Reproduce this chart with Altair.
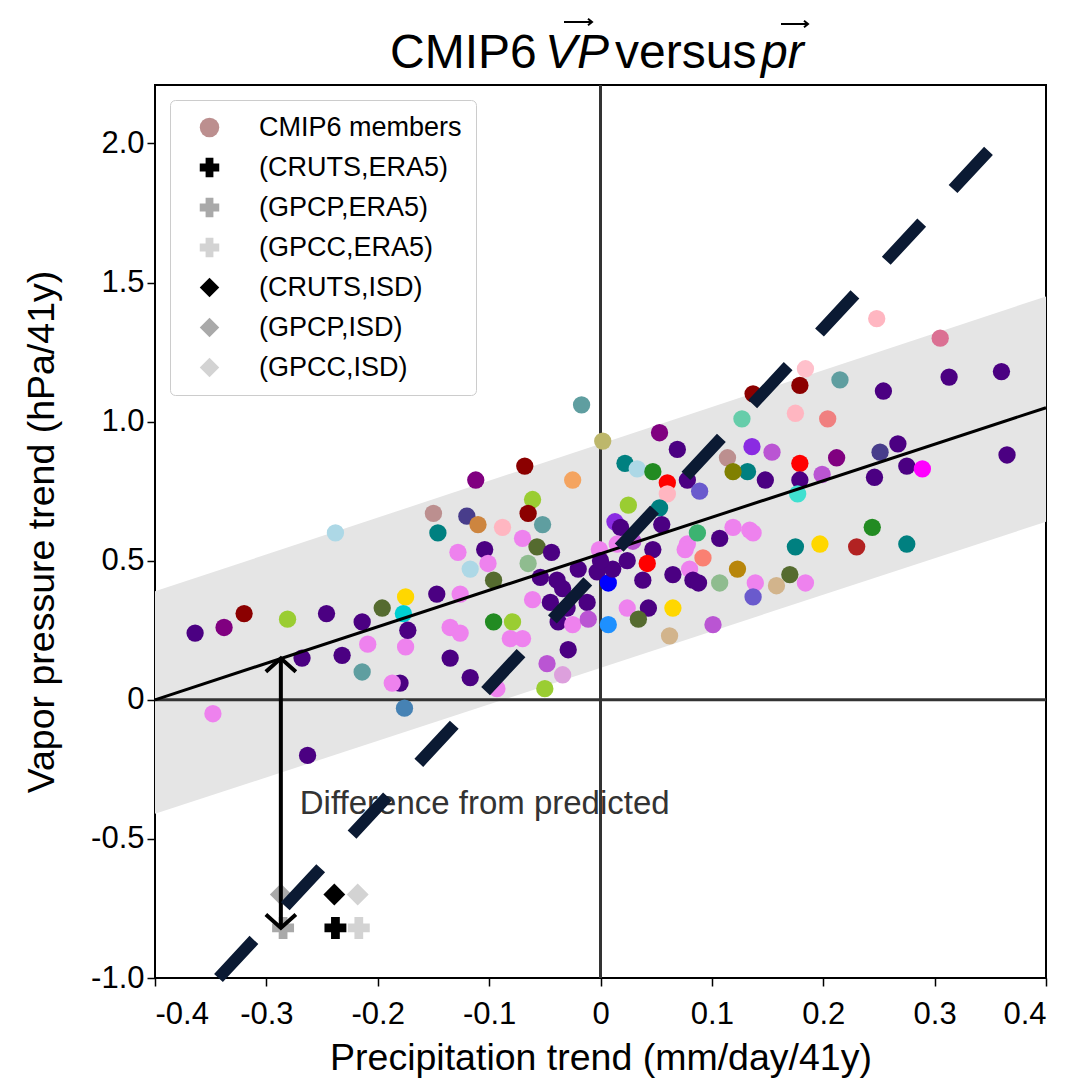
import altair as alt
import pandas as pd

# ---------------- data ----------------
cm_x = [-0.364, -0.338, -0.320, -0.281, -0.246, -0.214, -0.196, -0.175, -0.177, -0.268,
        -0.232, -0.209, -0.175, -0.173, -0.214, -0.180, -0.187, -0.348, -0.176, -0.263,
        -0.238, -0.017, 0.002, -0.068, -0.112, -0.025, -0.061, -0.065, -0.052, -0.150,
        -0.120, -0.110, -0.146, -0.088, -0.070, -0.057, -0.044, -0.104, -0.128, -0.101,
        -0.117, -0.065, -0.096, -0.054, -0.147, -0.126, -0.135, -0.126, -0.135, -0.117,
        -0.096, -0.079, -0.081, -0.070, -0.061, -0.039, -0.034, -0.030, -0.012, -0.038,
        -0.025, -0.011, -0.029, -0.048, -0.034, -0.050, -0.093, 0.007, -0.003, 0.007,
        0.013, 0.018, 0.025, 0.022, 0.033, 0.047, 0.053, 0.069, 0.060, 0.060,
        0.078, 0.089, 0.053, 0.029, 0.047, 0.042, 0.038, 0.024, 0.011, 0.065,
        0.080, 0.083, 0.024, 0.043, 0.065, 0.062, 0.034, 0.078, -0.001, 0.055,
        0.248, 0.305, 0.313, 0.360, 0.254, 0.215, 0.184, 0.179, 0.137, 0.175,
        0.204, 0.127, 0.136, 0.154, 0.179, 0.212, 0.267, 0.251, 0.246, 0.275,
        0.289, 0.365, 0.132, 0.148, 0.179, 0.199, 0.177, 0.244, 0.175, 0.197,
        0.230, 0.275, 0.114, 0.119, 0.092, 0.087, 0.107, 0.119, 0.134, 0.137,
        0.076, 0.123, 0.107, 0.088, 0.170, 0.184, 0.158, 0.139, 0.137, 0.101,
        -0.020, 0.000, -0.045, 0.015]
cm_y = [0.24, 0.26, 0.31, 0.29, 0.31, 0.28, 0.33, 0.37, 0.31, 0.15,
        0.16, 0.20, 0.19, 0.25, 0.10, 0.06, 0.06, -0.05, -0.03, -0.20,
        0.60, 1.06, 0.93, 0.84, 0.79, 0.79, 0.72, 0.67, 0.63, 0.67,
        0.66, 0.63, 0.60, 0.62, 0.58, 0.55, 0.53, 0.54, 0.53, 0.49,
        0.47, 0.49, 0.43, 0.44, 0.38, 0.38, 0.26, 0.24, 0.15, 0.08,
        0.28, 0.28, 0.22, 0.22, 0.36, 0.43, 0.40, 0.33, 0.35, 0.28,
        0.27, 0.29, 0.18, 0.13, 0.09, 0.04, 0.04, 0.27, 0.46, 0.42,
        0.64, 0.62, 0.70, 0.85, 0.83, 0.82, 0.96, 0.90, 0.78, 0.74,
        0.79, 0.75, 0.69, 0.57, 0.54, 0.49, 0.43, 0.50, 0.47, 0.45,
        0.47, 0.43, 0.33, 0.33, 0.33, 0.23, 0.29, 0.56, 0.54, 0.63,
        1.37, 1.30, 1.16, 1.18, 1.11, 1.15, 1.19, 1.13, 1.10, 1.03,
        1.01, 1.01, 0.91, 0.89, 0.85, 0.87, 0.92, 0.89, 0.80, 0.84,
        0.83, 0.88, 0.82, 0.79, 0.79, 0.81, 0.74, 0.62, 0.55, 0.56,
        0.55, 0.56, 0.87, 0.82, 0.51, 0.60, 0.58, 0.62, 0.61, 0.60,
        0.54, 0.47, 0.42, 0.42, 0.45, 0.42, 0.41, 0.42, 0.37, 0.27,
        0.47, 0.50, 0.35, 0.56]
cm_color = ["indigo", "purple", "darkred", "yellowgreen", "indigo", "indigo", "darkolivegreen", "gold", "darkturquoise", "indigo",
            "indigo", "violet", "violet", "indigo", "cadetblue", "indigo", "violet", "violet", "steelblue", "indigo",
            "lightblue", "cadetblue", "darkkhaki", "darkred", "purple", "sandybrown", "yellowgreen", "darkred", "cadetblue", "rosybrown",
            "darkslateblue", "peru", "teal", "lightpink", "violet", "darkolivegreen", "indigo", "indigo", "violet", "violet",
            "lightblue", "darkseagreen", "darkolivegreen", "indigo", "indigo", "violet", "violet", "violet", "indigo", "indigo",
            "forestgreen", "yellowgreen", "violet", "violet", "violet", "indigo", "indigo", "indigo", "indigo", "indigo",
            "violet", "mediumorchid", "indigo", "mediumorchid", "plum", "yellowgreen", "violet", "dodgerblue", "indigo", "blue",
            "blueviolet", "indigo", "yellowgreen", "teal", "lightblue", "forestgreen", "purple", "indigo", "red", "lightpink",
            "indigo", "slateblue", "teal", "mediumorchid", "indigo", "red", "indigo", "indigo", "indigo", "indigo",
            "violet", "indigo", "violet", "indigo", "gold", "tan", "darkolivegreen", "violet", "violet", "indigo",
            "lightpink", "palevioletred", "indigo", "indigo", "indigo", "cadetblue", "pink", "darkred", "darkred", "lightpink",
            "lightcoral", "mediumaquamarine", "blueviolet", "mediumorchid", "red", "purple", "indigo", "darkslateblue", "indigo", "indigo",
            "magenta", "indigo", "teal", "indigo", "indigo", "mediumorchid", "turquoise", "forestgreen", "teal", "gold",
            "firebrick", "teal", "rosybrown", "olive", "salmon", "mediumseagreen", "indigo", "violet", "violet", "violet",
            "violet", "darkgoldenrod", "darkseagreen", "indigo", "darkolivegreen", "violet", "tan", "violet", "slateblue", "mediumorchid",
            "indigo", "indigo", "indigo", "violet"]

obs_labels = ["(CRUTS,ERA5)", "(GPCP,ERA5)", "(GPCC,ERA5)", "(CRUTS,ISD)", "(GPCP,ISD)", "(GPCC,ISD)"]
obs_x = [-0.238, -0.285, -0.217, -0.239, -0.287, -0.218]
obs_y = [-0.82, -0.82, -0.82, -0.70, -0.70, -0.70]

legend_labels = ["CMIP6 members"] + obs_labels
legend_colors = ["rosybrown", "black", "darkgray", "lightgray", "black", "darkgray", "lightgray"]
legend_shapes = ["circle", "cross", "cross", "cross", "diamond", "diamond", "diamond"]

fit_x = [-0.4, 0.4]
fit_y = [0.0, 1.05]
band_lo = [-0.41, 0.64]
band_hi = [0.39, 1.45]

one2one_x = [-0.343, 0.350]
one2one_y = [-1.0, 1.98]

arrow_x = [-0.287]
arrow_top = [0.149]
arrow_bottom = [-0.82]

annot_text = ["Difference from predicted"]
annot_x = [-0.270]
annot_y = [-0.375]

x_ticks = [-0.4, -0.3, -0.2, -0.1, 0.0, 0.1, 0.2, 0.3, 0.4]
y_ticks = [-1.0, -0.5, 0.0, 0.5, 1.0, 1.5, 2.0]

title_parts = ["CMIP6", "VP", "versus", "pr"]

# ---------------- chart ----------------
FONT = "Liberation Sans"
W, H = 891, 893

lbl = "datum.value == 0 ? '0' : (datum.value < 0 ? '-' : '') + format(abs(datum.value), '.1f')"
xs = alt.Scale(domain=[-0.4, 0.4], nice=False, zero=False)
ys = alt.Scale(domain=[-1.0, 2.21], nice=False, zero=False)
xax = alt.Axis(values=x_ticks, labelExpr=lbl, title="Precipitation trend (mm/day/41y)", labelPadding=13,
               titleX=W / 2, titleY=80, titleAlign="center", titleBaseline="middle")
yax = alt.Axis(values=y_ticks, labelExpr=lbl, title="Vapor pressure trend (hPa/41y)", labelPadding=3,
               titleX=-113, titleY=H / 2, titleAlign="center", titleBaseline="middle", titleAngle=270)

fit_df = pd.DataFrame({"x": fit_x, "y": fit_y, "lo": band_lo, "hi": band_hi})
band = alt.Chart(fit_df).mark_area(color="#e5e5e5", opacity=1).encode(
    x=alt.X("x:Q", scale=xs, axis=xax), y=alt.Y("lo:Q", scale=ys, axis=yax), y2="hi:Q")

zero_df = pd.DataFrame({"v": [0.0]})
zero_h = alt.Chart(zero_df).mark_rule(color="#333333", strokeWidth=3).encode(y=alt.Y("v:Q", scale=ys))
zero_v = alt.Chart(zero_df).mark_rule(color="#333333", strokeWidth=3).encode(x=alt.X("v:Q", scale=xs))

cm_df = pd.DataFrame({"x": cm_x, "y": cm_y, "c": cm_color})
cm = alt.Chart(cm_df).mark_circle(size=300, opacity=1, strokeWidth=0).encode(
    x=alt.X("x:Q", scale=xs), y=alt.Y("y:Q", scale=ys), fill=alt.Fill("c:N", scale=None))

fit = alt.Chart(fit_df).mark_line(color="black", strokeWidth=3).encode(
    x=alt.X("x:Q", scale=xs), y=alt.Y("y:Q", scale=ys))

obs_df = pd.DataFrame({"x": obs_x, "y": obs_y, "label": obs_labels})
obs = alt.Chart(obs_df).mark_point(filled=True, opacity=1, size=480, strokeWidth=0).encode(
    x=alt.X("x:Q", scale=xs), y=alt.Y("y:Q", scale=ys),
    color=alt.Color("label:N", scale=alt.Scale(domain=legend_labels, range=legend_colors), title=None),
    shape=alt.Shape("label:N", scale=alt.Scale(domain=legend_labels, range=legend_shapes), title=None))

annot_df = pd.DataFrame({"x": annot_x, "y": annot_y, "t": annot_text})
annot = alt.Chart(annot_df).mark_text(align="left", baseline="middle", font=FONT, fontSize=33,
                                      color="#333333").encode(
    x=alt.X("x:Q", scale=xs), y=alt.Y("y:Q", scale=ys), text="t:N")

arr_df = pd.DataFrame({"x": arrow_x, "top": arrow_top, "bot": arrow_bottom})
shaft = alt.Chart(arr_df).mark_rule(color="black", strokeWidth=4).encode(
    x=alt.X("x:Q", scale=xs), y=alt.Y("top:Q", scale=ys), y2="bot:Q")
head_top = alt.Chart(arr_df).mark_point(shape="M-1,0.9L0,0L1,0.9", filled=False, color="black",
                                        strokeWidth=4, size=900, opacity=1).encode(
    x=alt.X("x:Q", scale=xs), y=alt.Y("top:Q", scale=ys))
head_bot = alt.Chart(arr_df).mark_point(shape="M-1,-0.9L0,0L1,-0.9", filled=False, color="black",
                                        strokeWidth=4, size=900, opacity=1).encode(
    x=alt.X("x:Q", scale=xs), y=alt.Y("bot:Q", scale=ys))

one_df = pd.DataFrame({"x": one2one_x, "y": one2one_y, "o": [0, 1]})
one2one = alt.Chart(one_df).mark_line(color="#0b1a33", strokeWidth=12, strokeDash=[52, 46],
                                      strokeCap="butt").encode(
    x=alt.X("x:Q", scale=xs), y=alt.Y("y:Q", scale=ys), order="o:Q")

# ---- title built from pieces (italic vector symbols with arrows) ----
one_row = pd.DataFrame({"k": [0]})

def ttext(s, x, y, size, italic=False):
    return alt.Chart(pd.DataFrame({"t": [s]})).mark_text(
        align="left", baseline="alphabetic", font=FONT, fontSize=size,
        fontStyle="italic" if italic else "normal", color="black").encode(
        text="t:N", x=alt.value(x), y=alt.value(y))

def vec_arrow(x0, x1, y):
    shaft_ = alt.Chart(one_row).mark_rule(color="black", strokeWidth=2).encode(
        x=alt.value(x0), x2=alt.value(x1), y=alt.value(y))
    head_ = alt.Chart(one_row).mark_point(shape="M-1,-0.8L0,0L-1,0.8", filled=False, color="black",
                                          strokeWidth=2, size=64, opacity=1).encode(
        x=alt.value(x1), y=alt.value(y))
    return [shaft_, head_]

t1 = ttext(title_parts[0], 235, -17, 48)
t2 = ttext(title_parts[1], 390, -17, 48, True)
t3 = ttext(title_parts[2], 460, -17, 48)
t4 = ttext(title_parts[3], 606, -17, 48, True)
arrows = vec_arrow(409, 437, -63) + vec_arrow(626, 653, -61)

chart = alt.layer(band, zero_h, zero_v, cm, fit, obs, annot, shaft, head_top, head_bot, one2one,
                  t1, t2, t3, t4, *arrows).properties(
    width=W, height=H,
    autosize=alt.AutoSizeParams(type="none"),
    padding={"left": 155, "top": 85, "right": 28, "bottom": 102},
).configure_view(stroke="black", strokeWidth=2).configure_axis(
    domain=False, grid=False, tickColor="black", tickSize=8, tickWidth=1.5,
    labelFont=FONT, labelFontSize=31, labelColor="black",
    titleFont=FONT, titleFontSize=37.5, titleFontWeight="normal", titleColor="black",
).configure_legend(
    orient="top-left", offset=15, padding=14, fillColor="white", strokeColor="#cccccc",
    cornerRadius=5, labelFont=FONT, labelFontSize=27, labelLimit=400, labelColor="black",
    symbolSize=380, symbolOffset=12, labelOffset=36, rowPadding=12, symbolStrokeWidth=0,
)

chart.save("out.html", embed_options={"renderer": "svg", "actions": False})
